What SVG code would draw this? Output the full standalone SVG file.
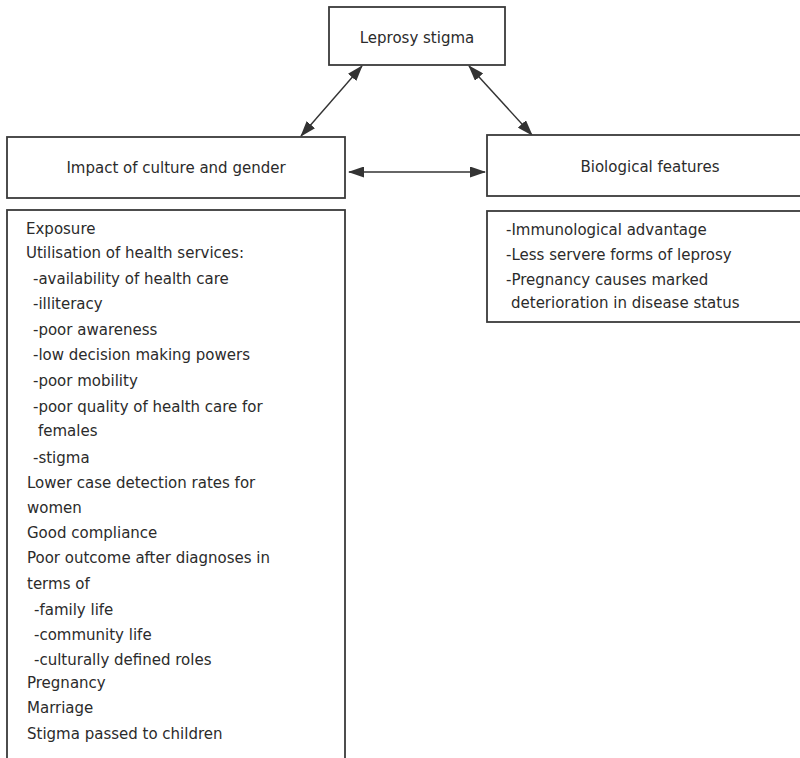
<svg xmlns="http://www.w3.org/2000/svg" width="800" height="758" viewBox="0 0 800 758">
<defs>
<style>
.box{fill:#fff;stroke:#3a3a3a;stroke-width:1.8}
.t{font-family:"DejaVu Sans",sans-serif;font-size:15px;fill:#2b2b2b}
.c{text-anchor:middle}
.link{stroke:#333;stroke-width:1.4;fill:none;marker-start:url(#ah);marker-end:url(#ah)}
</style>
<marker id="ah" markerUnits="userSpaceOnUse" markerWidth="16" markerHeight="11" refX="15" refY="5.5" orient="auto-start-reverse" viewBox="0 0 16 11">
<path d="M0,0 L16,5.5 L0,11 z" fill="#333"/>
</marker>
</defs>
<rect width="800" height="758" fill="#fff"/>
<g id="connectors">
<line class="link" x1="362" y1="66" x2="301" y2="136"/>
<line class="link" x1="469" y1="66" x2="532" y2="135"/>
<line class="link" x1="349" y1="172" x2="485" y2="172"/>
</g>
<g id="leprosy-stigma">
<rect class="box" x="329" y="7" width="176" height="58"/>
<text class="t c" x="417" y="43">Leprosy stigma</text>
</g>
<g id="impact-culture-gender">
<rect class="box" x="7" y="137" width="338" height="61"/>
<text class="t c" x="176" y="173">Impact of culture and gender</text>
</g>
<g id="biological-features">
<rect class="box" x="487" y="135" width="330" height="61"/>
<text class="t c" x="650" y="172">Biological features</text>
</g>
<g id="culture-details">
<rect class="box" x="7" y="210" width="338" height="570"/>
<text class="t" x="26" y="234">Exposure</text>
<text class="t" x="26" y="258">Utilisation of health services:</text>
<text class="t" x="33" y="284">-availability of health care</text>
<text class="t" x="33" y="309">-illiteracy</text>
<text class="t" x="33" y="335">-poor awareness</text>
<text class="t" x="33" y="360">-low decision making powers</text>
<text class="t" x="33" y="386">-poor mobility</text>
<text class="t" x="33" y="412">-poor quality of health care for</text>
<text class="t" x="38" y="436">females</text>
<text class="t" x="33" y="463">-stigma</text>
<text class="t" x="27" y="488">Lower case detection rates for</text>
<text class="t" x="27" y="513">women</text>
<text class="t" x="27" y="538">Good compliance</text>
<text class="t" x="27" y="563">Poor outcome after diagnoses in</text>
<text class="t" x="27" y="589">terms of</text>
<text class="t" x="34" y="615">-family life</text>
<text class="t" x="34" y="640">-community life</text>
<text class="t" x="34" y="665">-culturally defined roles</text>
<text class="t" x="27" y="688">Pregnancy</text>
<text class="t" x="27" y="713">Marriage</text>
<text class="t" x="27" y="739">Stigma passed to children</text>
</g>
<g id="biological-details">
<rect class="box" x="487" y="211" width="330" height="111"/>
<text class="t" x="506" y="235">-Immunological advantage</text>
<text class="t" x="506" y="260">-Less servere forms of leprosy</text>
<text class="t" x="506" y="285">-Pregnancy causes marked</text>
<text class="t" x="511" y="308">deterioration in disease status</text>
</g>
</svg>
